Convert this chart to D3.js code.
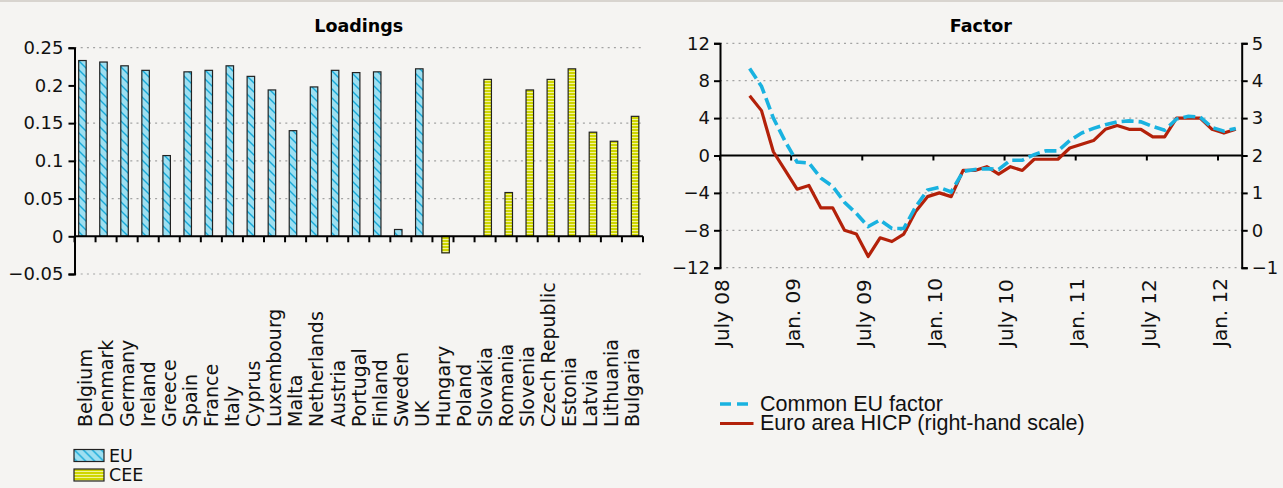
<!DOCTYPE html>
<html>
<head>
<meta charset="utf-8">
<script src="https://cdn.jsdelivr.net/npm/d3@7"></script>
<style>
	body { margin: 0; background: #f5f4f2; }
	svg { display: block; }
</style>
</head>
<body>
<script>
// loadings (left panel)
var euCountries = ["Belgium", "Denmark", "Germany", "Ireland", "Greece", "Spain", "France", "Italy", "Cyprus",
	"Luxembourg", "Malta", "Netherlands", "Austria", "Portugal", "Finland", "Sweden", "UK"];
var euValues = [0.233, 0.231, 0.226, 0.220, 0.107, 0.218, 0.220, 0.226, 0.212,
	0.194, 0.140, 0.198, 0.220, 0.217, 0.218, 0.009, 0.222];
var ceeCountries = ["Hungary", "Poland", "Slovakia", "Romania", "Slovenia", "Czech Republic", "Estonia",
	"Latvia", "Lithuania", "Bulgaria"];
var ceeValues = [-0.022, 0, 0.208, 0.058, 0.194, 0.208, 0.222, 0.138, 0.126, 0.159];
var loadTicks = [-0.05, 0, 0.05, 0.1, 0.15, 0.2, 0.25];
var loadGrid = [-0.05, 0.05, 0.1, 0.15, 0.25]; // no line at 0.2 in the original

// factor (right panel), monthly Sep 2008 - Feb 2012
var commonFactor = [9.3, 7.4, 4.0, 1.5, -0.7, -0.8, -2.4, -3.3, -5.0, -6.2, -7.6, -6.9, -7.8, -7.8,
	-5.5, -3.7, -3.4, -3.9, -1.7, -1.5, -1.4, -1.5, -0.5, -0.5, 0.1, 0.5, 0.5, 1.6,
	2.4, 2.9, 3.3, 3.6, 3.7, 3.6, 3.1, 2.7, 3.9, 4.2, 4.1, 3.0, 2.6, 2.9];
var hicp = [3.6, 3.2, 2.1, 1.6, 1.1, 1.2, 0.6, 0.6, 0.0, -0.1, -0.7, -0.2, -0.3, -0.1,
	0.5, 0.9, 1.0, 0.9, 1.6, 1.6, 1.7, 1.5, 1.7, 1.6, 1.9, 1.9, 1.9, 2.2,
	2.3, 2.4, 2.7, 2.8, 2.7, 2.7, 2.5, 2.5, 3.0, 3.0, 3.0, 2.7, 2.6, 2.7];
var dateLabels = ["July 08", "Jan. 09", "July 09", "Jan. 10", "July 10", "Jan. 11", "July 12", "Jan. 12"];
var leftTicks = [-12, -8, -4, 0, 4, 8, 12];
var rightTicks = [-1, 0, 1, 2, 3, 4, 5];

var W = 1283, H = 488;
var numFont = "DejaVu Sans, sans-serif";
var narrowFont = "Liberation Sans Narrow, Arial Narrow, sans-serif";
var gridColor = "#a3a3a3";
var minus = function(d){ return String(d).replace("-", "\u2212"); };

var svg = d3.select("body").append("svg")
	.attr("width", W)
	.attr("height", H);

svg.append("rect").attr("width", W).attr("height", H).attr("fill", "#f5f4f2");
svg.append("rect").attr("width", W).attr("height", 2).attr("fill", "#d8d4cf");

var defs = svg.append("defs");
var pEU = defs.append("pattern")
	.attr("id", "patEU")
	.attr("patternUnits", "userSpaceOnUse")
	.attr("width", 9).attr("height", 9);
pEU.append("rect").attr("width", 9).attr("height", 9).attr("fill", "#9ddff1");
pEU.append("path").attr("d", "M-1,-1L10,10M-1,8L1,10M8,-1L10,1")
	.attr("stroke", "#17a9d8").attr("stroke-width", 1.4);

var pCEE = defs.append("pattern")
	.attr("id", "patCEE")
	.attr("patternUnits", "userSpaceOnUse")
	.attr("width", 4).attr("height", 3);
pCEE.append("rect").attr("width", 4).attr("height", 3).attr("fill", "#cfd600");
pCEE.append("rect").attr("y", 2).attr("width", 4).attr("height", 1).attr("fill", "#f1f39a");

/* ---------------- Loadings ---------------- */
var countries = euCountries.concat(ceeCountries);
var x1 = d3.scaleBand().domain(countries).range([74.5, 643]);
var y1 = d3.scaleLinear().domain([-0.05, 0.25]).range([274, 47.7]);

var g1 = svg.append("g");

g1.selectAll("line.grid").data(loadGrid).enter().append("line")
	.attr("x1", x1.range()[0]).attr("x2", x1.range()[1])
	.attr("y1", function(d){ return y1(d); }).attr("y2", function(d){ return y1(d); })
	.attr("stroke", gridColor).attr("stroke-width", 1.2).attr("stroke-dasharray", "2,4.2");

g1.append("text")
	.attr("x", (x1.range()[0] + x1.range()[1]) / 2).attr("y", 32)
	.attr("text-anchor", "middle")
	.attr("font-family", numFont).attr("font-weight", "bold").attr("font-size", 17.5)
	.text("Loadings");

var barW = 7.5;
var bars = [];
euCountries.forEach(function(c, i){ bars.push({c: c, v: euValues[i], off: -2.6, fill: "url(#patEU)"}); });
ceeCountries.forEach(function(c, i){ bars.push({c: c, v: ceeValues[i], off: 2.6, fill: "url(#patCEE)"}); });

g1.selectAll("rect.bar").data(bars.filter(function(d){ return d.v !== 0; })).enter().append("rect")
	.attr("class", "bar")
	.attr("x", function(d){ return x1(d.c) + x1.bandwidth() / 2 + d.off - barW / 2; })
	.attr("y", function(d){ return y1(Math.max(0, d.v)); })
	.attr("width", barW)
	.attr("height", function(d){ return Math.abs(y1(d.v) - y1(0)); })
	.attr("fill", function(d){ return d.fill; })
	.attr("stroke", "#222").attr("stroke-width", 1.2);

// category axis at zero, ticks on the band edges
var xa = g1.append("g");
xa.append("line")
	.attr("x1", x1.range()[0]).attr("x2", x1.range()[1])
	.attr("y1", y1(0)).attr("y2", y1(0))
	.attr("stroke", "#000").attr("stroke-width", 2);
xa.selectAll("line.tk").data(countries.concat(["_end"])).enter().append("line")
	.attr("x1", function(d){ return d === "_end" ? x1.range()[1] : x1(d); })
	.attr("x2", function(d){ return d === "_end" ? x1.range()[1] : x1(d); })
	.attr("y1", y1(0)).attr("y2", y1(0) + 6)
	.attr("stroke", "#000").attr("stroke-width", 2);

var ya1 = g1.append("g")
	.attr("transform", "translate(" + x1.range()[0] + ",0)")
	.call(d3.axisLeft(y1).tickValues(loadTicks).tickSizeOuter(0).tickSize(6).tickPadding(5).tickFormat(minus));
ya1.select(".domain").attr("stroke-width", 2);
ya1.selectAll(".tick line").attr("stroke-width", 2);
ya1.selectAll("text").attr("font-family", numFont).attr("font-size", 18).attr("fill", "#111");

g1.selectAll("text.cat").data(countries).enter().append("text")
	.attr("transform", function(d){ return "translate(" + (x1(d) + x1.bandwidth() / 2) + ",427) rotate(-90)"; })
	.attr("dy", "0.36em")
	.attr("font-family", numFont).attr("font-size", 19).attr("fill", "#111")
	.text(function(d){ return d; });

var leg1 = [{name: "EU", fill: "url(#patEU)"}, {name: "CEE", fill: "url(#patCEE)"}];
var lg1 = g1.selectAll("g.leg").data(leg1).enter().append("g")
	.attr("transform", function(d, i){ return "translate(74," + (449.5 + i * 19.5) + ")"; });
lg1.append("rect").attr("width", 30).attr("height", 12)
	.attr("fill", function(d){ return d.fill; })
	.attr("stroke", "#222").attr("stroke-width", 1.2);
lg1.append("text").attr("x", 35).attr("y", 12)
	.attr("font-family", numFont).attr("font-size", 17.5).attr("fill", "#111")
	.text(function(d){ return d.name; });

/* ---------------- Factor ---------------- */
var months = d3.timeMonth.range(new Date(2008, 6, 1), new Date(2012, 2, 1));
var dataMonths = d3.timeMonth.range(new Date(2008, 8, 1), new Date(2012, 2, 1));
var x2 = d3.scaleBand().domain(months.map(function(d){ return +d; })).range([720, 1241.7]);
var yL = d3.scaleLinear().domain([-12, 12]).range([267.7, 43.3]);
var yR = d3.scaleLinear().domain([-1, 5]).range([267.7, 43.3]);
var mx = function(d){ return x2(+d) + x2.bandwidth() / 2; };
var halfYears = months.filter(function(d, i){ return i % 6 === 0; });

var g2 = svg.append("g");

g2.selectAll("line.grid").data(leftTicks.filter(function(d){ return d !== 0; })).enter().append("line")
	.attr("x1", 720).attr("x2", 1241.7)
	.attr("y1", function(d){ return yL(d); }).attr("y2", function(d){ return yL(d); })
	.attr("stroke", gridColor).attr("stroke-width", 1.2).attr("stroke-dasharray", "2,4.2");

g2.append("text")
	.attr("x", (720 + 1241.7) / 2).attr("y", 32)
	.attr("text-anchor", "middle")
	.attr("font-family", numFont).attr("font-weight", "bold").attr("font-size", 17.5)
	.text("Factor");

// zero line with half-year ticks
g2.append("line")
	.attr("x1", 720).attr("x2", 1241.7).attr("y1", yL(0)).attr("y2", yL(0))
	.attr("stroke", "#000").attr("stroke-width", 2);
g2.selectAll("line.tk").data(halfYears).enter().append("line")
	.attr("x1", function(d){ return x2(+d); }).attr("x2", function(d){ return x2(+d); })
	.attr("y1", yL(0)).attr("y2", yL(0) + 5)
	.attr("stroke", "#000").attr("stroke-width", 2);

var lineL = d3.line()
	.x(function(d, i){ return mx(dataMonths[i]); })
	.y(function(d){ return yL(d); });
var lineR = d3.line()
	.x(function(d, i){ return mx(dataMonths[i]); })
	.y(function(d){ return yR(d); });

g2.append("path").datum(hicp)
	.attr("d", lineR)
	.attr("fill", "none").attr("stroke", "#b3210a").attr("stroke-width", 3.2)
	.attr("stroke-linejoin", "round");
g2.append("path").datum(commonFactor)
	.attr("d", lineL)
	.attr("fill", "none").attr("stroke", "#19b2e0").attr("stroke-width", 3.6)
	.attr("stroke-dasharray", "12,5");

var yaL = g2.append("g")
	.attr("transform", "translate(720,0)")
	.call(d3.axisLeft(yL).tickValues(leftTicks).tickSizeOuter(0).tickSize(6).tickPadding(4).tickFormat(minus));
var yaR = g2.append("g")
	.attr("transform", "translate(1241.7,0)")
	.call(d3.axisRight(yR).tickValues(rightTicks).tickSizeOuter(0).tickSize(6).tickPadding(4).tickFormat(minus));
[yaL, yaR].forEach(function(a){
	a.select(".domain").attr("stroke-width", 2);
	a.selectAll(".tick line").attr("stroke-width", 2);
	a.selectAll("text").attr("font-family", numFont).attr("font-size", 18).attr("fill", "#111");
});

g2.selectAll("text.date").data(dateLabels).enter().append("text")
	.attr("transform", function(d, i){ return "translate(" + (x2(+halfYears[i]) + 1.5) + ",347) rotate(-90)"; })
	.attr("dy", "0.36em")
	.attr("font-family", numFont).attr("font-size", 20).attr("fill", "#111")
	.text(function(d){ return d; });

var leg2 = [
	{name: "Common EU factor", color: "#19b2e0", dash: "11,6", w: 3.6},
	{name: "Euro area HICP (right-hand scale)", color: "#b3210a", dash: null, w: 3.2}
];
var lg2 = g2.selectAll("g.leg").data(leg2).enter().append("g")
	.attr("transform", function(d, i){ return "translate(720," + (404 + i * 19.5) + ")"; });
lg2.append("line").attr("x1", 0).attr("x2", 33.5)
	.attr("stroke", function(d){ return d.color; })
	.attr("stroke-width", function(d){ return d.w; })
	.attr("stroke-dasharray", function(d){ return d.dash; });
lg2.append("text").attr("x", 40).attr("y", 6.5)
	.attr("font-family", narrowFont).attr("font-size", 21.5).attr("fill", "#111")
	.text(function(d){ return d.name; });
</script>
</body>
</html>
